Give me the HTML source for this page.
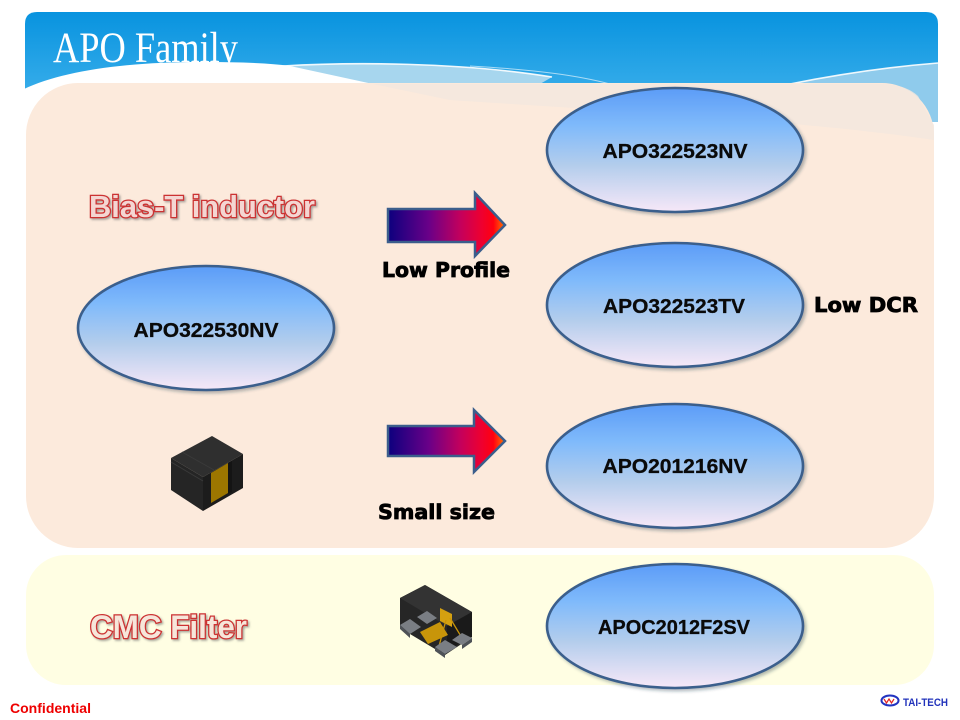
<!DOCTYPE html>
<html>
<head>
<meta charset="utf-8">
<style>
  html, body { margin: 0; padding: 0; background: #ffffff; }
  body { width: 960px; height: 720px; overflow: hidden; }
  svg { display: block; }
</style>
</head>
<body>
<svg width="960" height="720" viewBox="0 0 960 720" xmlns="http://www.w3.org/2000/svg">
  <defs>
    <linearGradient id="hdr" x1="0" y1="12" x2="0" y2="122" gradientUnits="userSpaceOnUse">
      <stop offset="0" stop-color="#0893DF"/>
      <stop offset="0.6" stop-color="#2EA8E8"/>
      <stop offset="1" stop-color="#4AB6EC"/>
    </linearGradient>
    <linearGradient id="eg" x1="0" y1="0" x2="0" y2="1">
      <stop offset="0" stop-color="#5C9CF7"/>
      <stop offset="0.3" stop-color="#7FBAFB"/>
      <stop offset="0.62" stop-color="#B3CDEC"/>
      <stop offset="1" stop-color="#F7E8F8"/>
    </linearGradient>
    <linearGradient id="ag" x1="0" y1="0" x2="1" y2="0">
      <stop offset="0" stop-color="#0C007E"/>
      <stop offset="0.35" stop-color="#6A0088"/>
      <stop offset="0.62" stop-color="#C4005C"/>
      <stop offset="0.8" stop-color="#EE0030"/>
      <stop offset="0.9" stop-color="#FF0010"/>
      <stop offset="1" stop-color="#FF7A00"/>
    </linearGradient>
    <linearGradient id="pk" x1="0" y1="83" x2="0" y2="140" gradientUnits="userSpaceOnUse">
      <stop offset="0" stop-color="#EFE6DE"/>
      <stop offset="1" stop-color="#FCEADC"/>
    </linearGradient>
    <filter id="sh" x="-10%" y="-10%" width="125%" height="130%">
      <feDropShadow dx="2" dy="2" stdDeviation="1.5" flood-color="#203040" flood-opacity="0.35"/>
    </filter>
    <filter id="tsh" x="-5%" y="-20%" width="115%" height="150%">
      <feDropShadow dx="1.5" dy="1.5" stdDeviation="1" flood-color="#606060" flood-opacity="0.55"/>
    </filter>
  </defs>

  <!-- header -->
  <path d="M25 24 Q25 12 37 12 L926 12 Q938 12 938 24 L938 122 L25 122 Z" fill="url(#hdr)"/>
  <!-- light blue swoosh left -->
  <path d="M283 66 C350 62 460 62 552 77 L540 84 L372 84 Z" fill="#A7D6EE"/>
  <path d="M283 66 C350 62 460 62 552 77" fill="none" stroke="#ffffff" stroke-width="1.6" opacity="0.9"/>
  <path d="M470 66 C540 70 580 76 610 84" fill="none" stroke="#ffffff" stroke-width="1" opacity="0.6"/>
  <!-- light blue swoosh right -->
  <path d="M790 84 C850 72 900 66 938 63 L938 122 L790 122 Z" fill="#8FCBEC"/>
  <path d="M790 84 C850 72 900 66 938 63" fill="none" stroke="#ffffff" stroke-width="1.6" opacity="0.9"/>
  <!-- white hump -->
  <path d="M24 89 C60 72 120 62 200 62 C240 62 270 63 290 66 L373 84 L373 150 L20 150 Z" fill="#ffffff"/>

  <!-- title -->
  <text x="53" y="62" font-family="Liberation Serif, serif" font-size="43" fill="#ffffff" textLength="185" lengthAdjust="spacingAndGlyphs">APO Family</text>

  <!-- peach panel -->
  <rect x="26" y="83" width="908" height="465" rx="52" ry="52" fill="#FCEADC"/>
  <path d="M373 84 L880 84 Q905 84 918 96 L934 125 L934 140 C800 120 600 110 450 100 Z" fill="#F2E7DE" opacity="0.8"/>
  <!-- CMC panel -->
  <rect x="26" y="555" width="908" height="130" rx="40" ry="40" fill="#FFFEE3"/>

  <!-- section titles -->
  <g filter="url(#tsh)">
    <text x="89" y="217" font-family="Liberation Sans, sans-serif" font-weight="bold" font-size="31" fill="#F4D6D2" stroke="#CC3030" stroke-width="2.6" paint-order="stroke" textLength="226" lengthAdjust="spacingAndGlyphs">Bias-T inductor</text>
    <text x="90" y="638" font-family="Liberation Sans, sans-serif" font-weight="bold" font-size="32" fill="#F6E6DA" stroke="#CC3030" stroke-width="2.6" paint-order="stroke" textLength="157" lengthAdjust="spacingAndGlyphs">CMC Filter</text>
  </g>

  <!-- ellipses -->
  <g stroke="#3B5E8C" stroke-width="2.6" fill="url(#eg)" filter="url(#sh)">
    <ellipse cx="675" cy="150" rx="128" ry="62"/>
    <ellipse cx="206" cy="328" rx="128" ry="62"/>
    <ellipse cx="675" cy="305" rx="128" ry="62"/>
    <ellipse cx="675" cy="466" rx="128" ry="62"/>
    <ellipse cx="675" cy="626" rx="128" ry="62"/>
  </g>
  <g font-family="Liberation Sans, sans-serif" font-weight="bold" font-size="20" fill="#0A0A0A" stroke="#0A0A0A" stroke-width="0.3" text-anchor="middle">
    <text x="675" y="158" textLength="145" lengthAdjust="spacingAndGlyphs">APO322523NV</text>
    <text x="206" y="337" textLength="145" lengthAdjust="spacingAndGlyphs">APO322530NV</text>
    <text x="674" y="313" textLength="142" lengthAdjust="spacingAndGlyphs">APO322523TV</text>
    <text x="675" y="473" textLength="145" lengthAdjust="spacingAndGlyphs">APO201216NV</text>
    <text x="674" y="634" textLength="152" lengthAdjust="spacingAndGlyphs">APOC2012F2SV</text>
  </g>

  <!-- arrows -->
  <g stroke="#3B5E8C" stroke-width="2.5" stroke-linejoin="miter" fill="url(#ag)">
    <path d="M388 209 L475 209 L475 193 L505 225 L475 256 L475 242 L388 242 Z"/>
    <path d="M388 426 L474 426 L474 410 L505 441 L474 472 L474 456 L388 456 Z"/>
  </g>

  <!-- labels -->
  <g font-family="DejaVu Sans, sans-serif" font-weight="bold" font-size="20" fill="#000000" stroke="#000000" stroke-width="0.8">
    <text x="382" y="277" textLength="128" lengthAdjust="spacingAndGlyphs">Low Profile</text>
    <text x="814" y="312" textLength="104" lengthAdjust="spacingAndGlyphs">Low DCR</text>
    <text x="378" y="519" textLength="117" lengthAdjust="spacingAndGlyphs">Small size</text>
  </g>

  <!-- inductor component -->
  <g>
    <polygon points="171,458 212,436 243,454 203,477" fill="#2F2F2F"/>
    <polygon points="171,458 203,477 203,511 171,490" fill="#252525"/>
    <polygon points="203,477 243,454 243,488 203,511" fill="#1C1C1C"/>
    <polygon points="211,473 228,463 228,493 211,503" fill="#9C7600"/>
    <polygon points="228,463 232,461 232,492 228,494" fill="#141414"/>
    <line x1="171" y1="462" x2="203" y2="481" stroke="#3A3A3A" stroke-width="1"/>
    <line x1="182" y1="452" x2="214" y2="470" stroke="#3A3A3A" stroke-width="1"/>
  </g>

  <!-- CMC component -->
  <g>
    <polygon points="400,598 425,585 472,612 472,637 445,655 400,628" fill="#262626"/>
    <polygon points="400,598 425,585 472,612 447,626" fill="#333333"/>
    <polygon points="447,626 472,612 472,637 447,650" fill="#1A1A1A"/>
    <polygon points="440,608 452,614 452,627 440,621" fill="#D4A010"/>
    <polygon points="420,632 440,622 448,635 428,644" fill="#C8950A"/>
    <line x1="446" y1="620" x2="438" y2="650" stroke="#C8950A" stroke-width="1.3"/>
    <line x1="450" y1="618" x2="462" y2="638" stroke="#C8950A" stroke-width="1.3"/>
    <polygon points="400,625 410,619 421,627 410,634" fill="#7A7E84"/>
    <polygon points="400,625 410,634 410,638 400,629" fill="#4E5257"/>
    <polygon points="417,617 427,611 437,618 427,624" fill="#7A7E84"/>
    <polygon points="435,647 445,640 457,647 445,654" fill="#7A7E84"/>
    <polygon points="435,647 445,654 445,658 435,651" fill="#4E5257"/>
    <polygon points="452,640 462,633 472,638 462,645" fill="#7A7E84"/>
    <polygon points="462,645 472,638 472,642 462,649" fill="#4E5257"/>
  </g>

  <!-- footer -->
  <text x="10" y="713" font-family="Liberation Sans, sans-serif" font-weight="bold" font-size="14" fill="#EE0000" textLength="81" lengthAdjust="spacingAndGlyphs">Confidential</text>
  <g>
    <ellipse cx="890" cy="700.5" rx="8.5" ry="5" fill="#ffffff" stroke="#2233C0" stroke-width="2"/>
    <path d="M884 699 L886.5 703 L889 699 L891.5 703 L894 699" fill="none" stroke="#E02020" stroke-width="1.2"/>
    <text x="903" y="706" font-family="Liberation Sans, sans-serif" font-weight="bold" font-size="11" fill="#2233BB" textLength="45" lengthAdjust="spacingAndGlyphs">TAI-TECH</text>
  </g>
</svg>
</body>
</html>
